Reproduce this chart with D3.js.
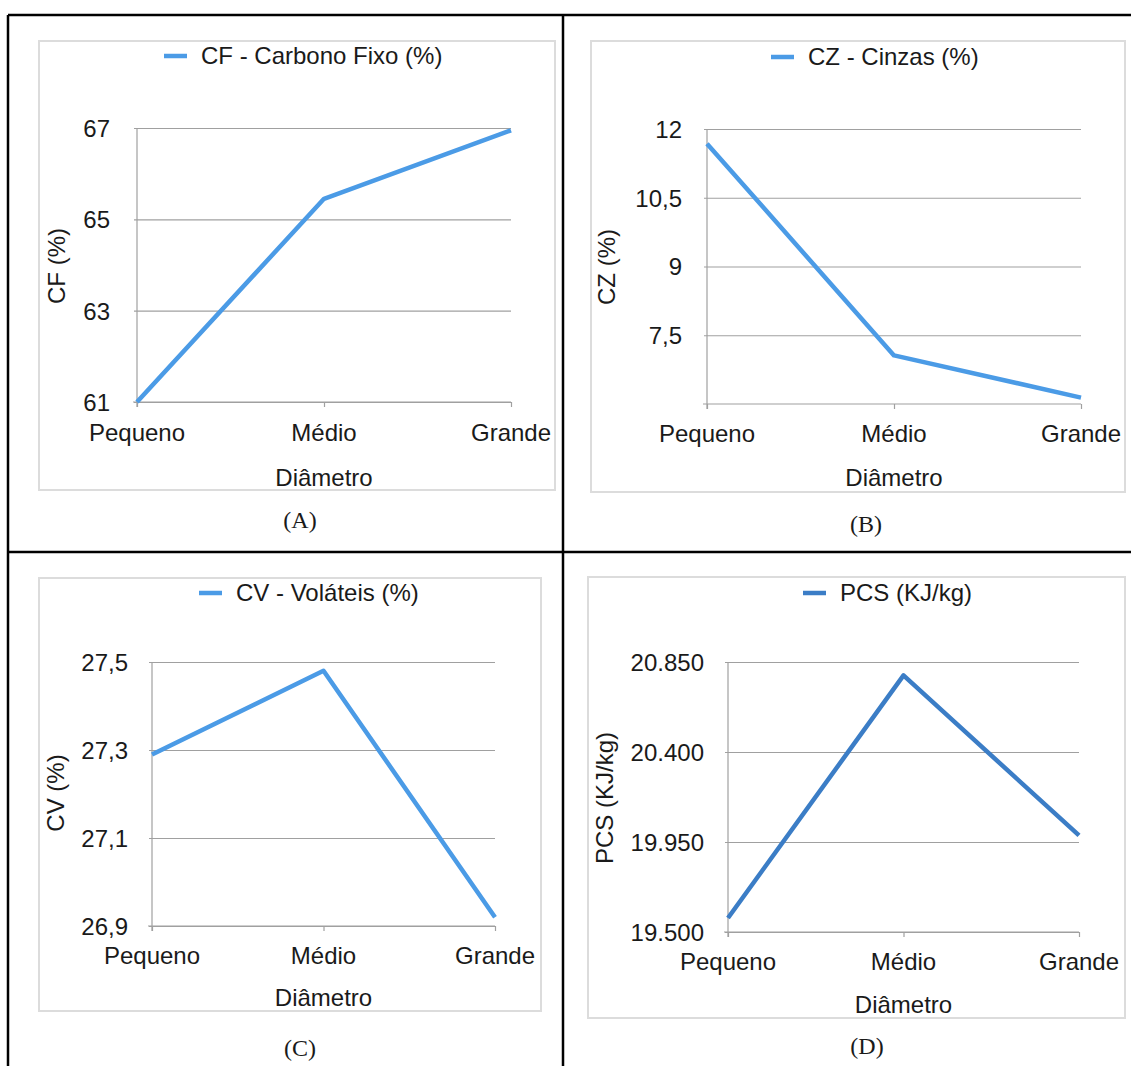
<!DOCTYPE html>
<html>
<head>
<meta charset="utf-8">
<script src="https://cdn.jsdelivr.net/npm/d3@7"></script>
<style>
  body { margin: 0; background: #fff; }
  svg text { font-family: "Liberation Sans", Arial, Helvetica, sans-serif; fill: #1a1a1a; }
  svg text.caption { font-family: "Liberation Serif", "Times New Roman", serif; }
</style>
</head>
<body>
<svg width="1131" height="1066"></svg>
<script>
// data
const categories = ["Pequeno", "Médio", "Grande"];

const cfValues = [61.0, 65.45, 66.95];
const czValues = [11.68, 7.06, 6.14];
const cvValues = [27.29, 27.48, 26.92];
const pcsValues = [19570, 20783, 19983];

const cfTicks = [61, 63, 65, 67];
const czTicks = [7.5, 9, 10.5, 12];
const cvTicks = [26.9, 27.1, 27.3, 27.5];
const pcsTicks = [19500, 19950, 20400, 20850];

const svg = d3.select("svg");
const ptBR = d3.formatLocale({ decimal: ",", thousands: ".", grouping: [3], currency: ["R$", ""] });
const fmt = ptBR.format(",~f");
const fs = "24px";

// outer table lines
const frame = [
  [8, 15, 1131, 15], [8, 552, 1131, 552],
  [8, 15, 8, 1066], [563, 15, 563, 1066]
];
svg.selectAll("line.frame").data(frame).enter().append("line")
  .attr("class", "frame")
  .attr("x1", d => d[0]).attr("y1", d => d[1])
  .attr("x2", d => d[2]).attr("y2", d => d[3])
  .attr("stroke", "#000").attr("stroke-width", 2.5);

const panels = [
  { values: cfValues, ticks: cfTicks, domain: [61, 67], legend: "CF - Carbono Fixo (%)", ytitle: "CF (%)",
    color: "#4b9be6", caption: "(A)",
    box: [39, 41, 555, 490], x0: 137, x1: 511, yTop: 128, yBot: 402,
    legX: 164, legY: 56, labR: 110, ytX: 57, ytY: 266, xlabY: 441, dmY: 486, capX: 300, capY: 528 },
  { values: czValues, ticks: czTicks, domain: [6, 12], legend: "CZ - Cinzas (%)", ytitle: "CZ (%)",
    color: "#4b9be6", caption: "(B)",
    box: [591, 41, 1125, 492], x0: 707, x1: 1081, yTop: 129, yBot: 404,
    legX: 771, legY: 57, labR: 682, ytX: 607, ytY: 267, xlabY: 442, dmY: 486, capX: 866, capY: 532 },
  { values: cvValues, ticks: cvTicks, domain: [26.9, 27.5], legend: "CV - Voláteis (%)", ytitle: "CV (%)",
    color: "#4b9be6", caption: "(C)",
    box: [39, 578, 541, 1011], x0: 152, x1: 495, yTop: 662, yBot: 926,
    legX: 199, legY: 593, labR: 128, ytX: 56, ytY: 793, xlabY: 964, dmY: 1006, capX: 300, capY: 1056 },
  { values: pcsValues, ticks: pcsTicks, domain: [19500, 20850], legend: "PCS (KJ/kg)", ytitle: "PCS (KJ/kg)",
    color: "#3b7dc6", caption: "(D)",
    box: [588, 577, 1125, 1018], x0: 728, x1: 1079, yTop: 662, yBot: 932,
    legX: 803, legY: 593, labR: 704, ytX: 605, ytY: 798, xlabY: 970, dmY: 1013, capX: 867, capY: 1054 }
];

const drawPanel = p => {
  const g = svg.append("g");

  g.append("rect")
    .attr("x", p.box[0]).attr("y", p.box[1])
    .attr("width", p.box[2] - p.box[0]).attr("height", p.box[3] - p.box[1])
    .attr("fill", "#fff").attr("stroke", "#dcdcdc").attr("stroke-width", 2);

  const xScale = d3.scalePoint().domain(categories).range([p.x0, p.x1]);
  const yScale = d3.scaleLinear().domain(p.domain).range([p.yBot, p.yTop]);

  // grid lines + y labels
  const yAxis = g.append("g")
    .attr("transform", `translate(${p.x0},0)`)
    .call(d3.axisLeft(yScale).tickValues(p.ticks).tickSize(-(p.x1 - p.x0)).tickFormat(fmt));
  yAxis.select(".domain").remove();
  yAxis.selectAll(".tick line").attr("stroke", "#a0a0a0").attr("stroke-width", 1.2).attr("x1", -3);
  yAxis.selectAll(".tick text")
    .attr("x", p.labR - p.x0).attr("dy", "0.35em")
    .style("font-size", fs).style("font-family", null).attr("fill", "#1a1a1a");

  // left axis line and bottom axis
  g.append("line")
    .attr("x1", p.x0).attr("x2", p.x0).attr("y1", p.yTop).attr("y2", p.yBot + 5)
    .attr("stroke", "#a0a0a0").attr("stroke-width", 1.2);
  const xAxis = g.append("g")
    .attr("transform", `translate(0,${p.yBot})`)
    .call(d3.axisBottom(xScale).tickSize(5).tickSizeOuter(0).tickFormat(""));
  xAxis.select(".domain").attr("stroke", "#a0a0a0").attr("stroke-width", 1.2)
    .attr("d", `M${p.x0 - 4},0H${p.x1}`);
  xAxis.selectAll(".tick line").attr("stroke", "#a0a0a0").attr("stroke-width", 1.2);

  // category labels
  g.selectAll("text.xlab").data(categories).enter().append("text")
    .attr("class", "xlab")
    .attr("x", d => xScale(d)).attr("y", p.xlabY)
    .attr("text-anchor", "middle").style("font-size", fs)
    .text(d => d);

  // the series
  const line = d3.line().x((d, i) => xScale(categories[i])).y(d => yScale(d));
  g.append("path")
    .datum(p.values)
    .attr("d", line)
    .attr("fill", "none").attr("stroke", p.color).attr("stroke-width", 4.5)
    .attr("stroke-linejoin", "round");

  // legend
  g.append("line")
    .attr("x1", p.legX).attr("x2", p.legX + 23).attr("y1", p.legY).attr("y2", p.legY)
    .attr("stroke", p.color).attr("stroke-width", 4.5);
  g.append("text")
    .attr("x", p.legX + 37).attr("y", p.legY + 8)
    .style("font-size", fs).text(p.legend);

  // axis titles
  g.append("text")
    .attr("transform", `translate(${p.ytX + 8},${p.ytY}) rotate(-90)`)
    .attr("text-anchor", "middle").style("font-size", fs).text(p.ytitle);
  g.append("text")
    .attr("x", (p.x0 + p.x1) / 2).attr("y", p.dmY)
    .attr("text-anchor", "middle").style("font-size", fs).text("Diâmetro");

  g.append("text").attr("class", "caption")
    .attr("x", p.capX).attr("y", p.capY)
    .attr("text-anchor", "middle").style("font-size", fs).text(p.caption);
};

panels.forEach(drawPanel);
</script>
</body>
</html>
